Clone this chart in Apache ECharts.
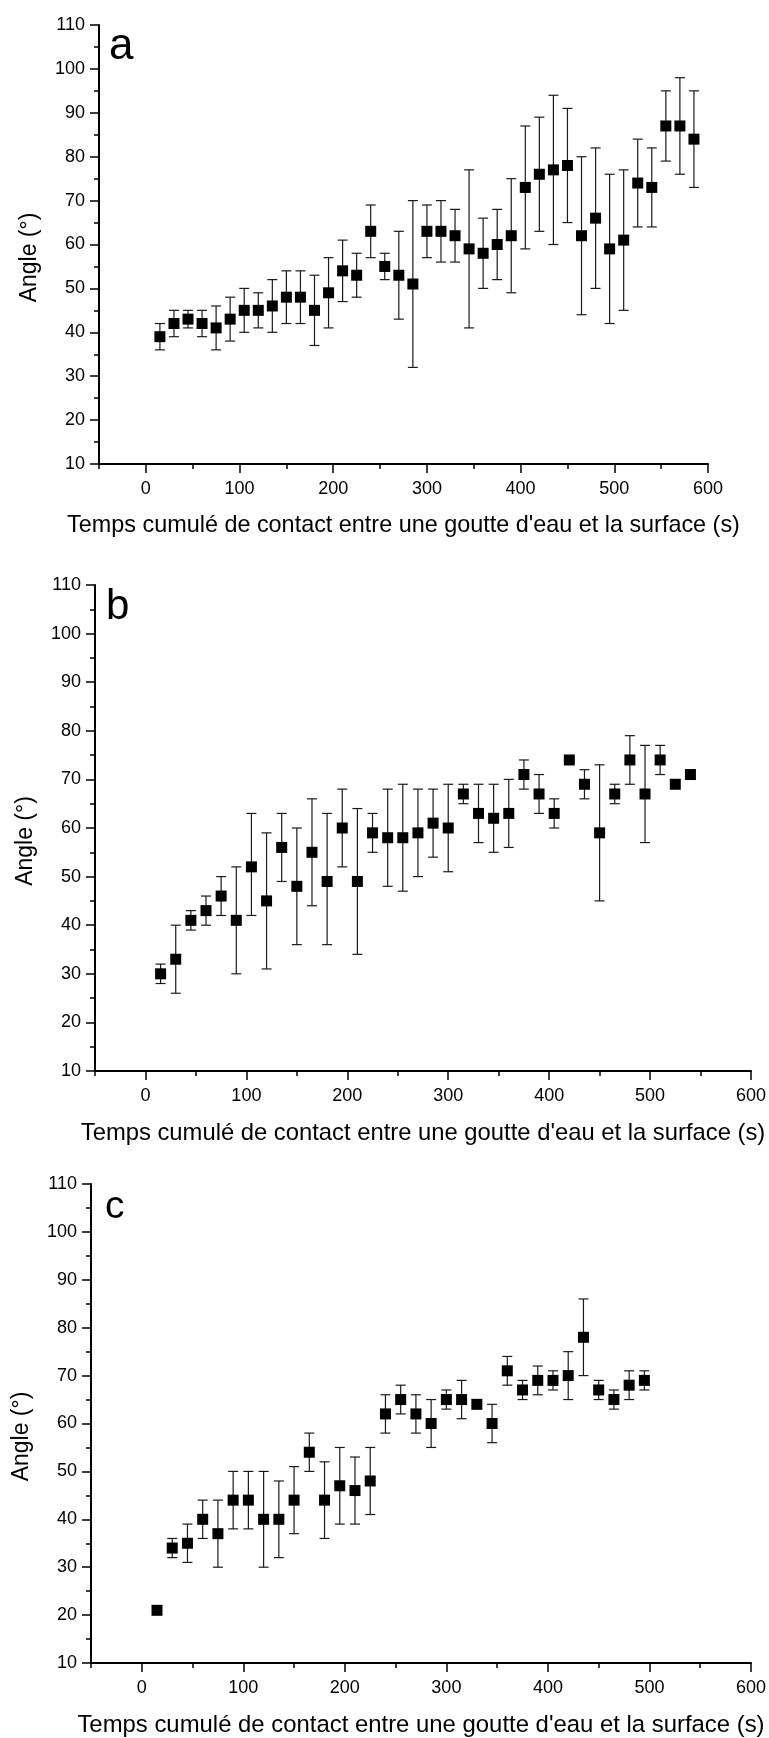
<!DOCTYPE html>
<html><head><meta charset="utf-8">
<script src="https://cdn.jsdelivr.net/npm/echarts@6/dist/echarts.min.js"></script>
<style>html,body{margin:0;padding:0;background:#fff}#c{width:769px;height:1738px}</style>
</head><body><div id="c"></div>
<script>
// ---- Tick labels ----
const xTickValues = [0, 100, 200, 300, 400, 500, 600];
const xMinorTickValues = [-50, 50, 150, 250, 350, 450, 550];
const xTitle = "Temps cumulé de contact entre une goutte d'eau et la surface (s)";
const yTitle = "Angle (°)";
const panelLetters = ['a', 'b', 'c'];

// ---- Panel a ----
const timesA = [15,30,45,60,75,90,105,120,135,150,165,180,195,210,225,240,255,270,285,300,315,330,345,360,375,390,405,420,435,450,465,480,495,510,525,540,555,570,585];
const angleA = [39,42,43,42,41,43,45,45,46,48,48,45,49,54,53,63,55,53,51,63,63,62,59,58,60,62,73,76,77,78,62,66,59,61,74,73,87,87,84];
const lowA   = [36,39,41,39,36,38,40,41,40,42,42,37,41,47,48,57,52,43,32,57,56,56,41,50,52,49,59,63,60,65,44,50,42,45,64,64,79,76,73];
const highA  = [42,45,45,45,46,48,50,49,52,54,54,53,57,61,58,69,58,63,70,69,70,68,77,66,68,75,87,89,94,91,80,82,76,77,84,82,95,98,95];

// ---- Panel b ----
const timesB = [15,30,45,60,75,90,105,120,135,150,165,180,195,210,225,240,255,270,285,300,315,330,345,360,375,390,405,420,435,450,465,480,495,510,525,540];
const angleB = [30,33,41,43,46,41,52,45,56,48,55,49,60,49,59,58,58,59,61,60,67,63,62,63,71,67,63,74,69,59,67,74,67,74,69,71];
const lowB   = [28,26,39,40,42,30,42,31,49,36,44,36,52,34,55,48,47,50,54,51,65,57,55,56,68,63,60,null,66,45,65,69,57,71,null,null];
const highB  = [32,40,43,46,50,52,63,59,63,60,66,63,68,64,63,68,69,68,68,69,69,69,69,70,74,71,66,null,72,73,69,79,77,77,null,null];

// ---- Panel c ----
const timesC = [15,30,45,60,75,90,105,120,135,150,165,180,195,210,225,240,255,270,285,300,315,330,345,360,375,390,405,420,435,450,465,480,495];
const angleC = [21,34,35,40,37,44,44,40,40,44,54,44,47,46,48,62,65,62,60,65,65,64,60,71,67,69,69,70,78,67,65,68,69];
const lowC   = [null,32,31,36,30,38,38,30,32,37,50,36,39,39,41,58,62,58,55,63,61,null,56,68,65,66,67,65,70,65,63,65,67];
const highC  = [null,36,39,44,44,50,50,50,48,51,58,52,55,53,55,66,68,66,65,67,69,null,64,74,69,72,71,75,86,69,67,71,71];

const FONT = "'Liberation Sans', Arial, sans-serif";

const panels = [
  {t: timesA, v: angleA, lo: lowA, hi: highA, grid: {left: 99, top: 25, width: 609, height: 439}, letter: {x: 109, y: 47, size: 44}, titleSize: 23.4},
  {t: timesB, v: angleB, lo: lowB, hi: highB, grid: {left: 95, top: 585, width: 658, height: 486}, letter: {x: 106, y: 607, size: 42}, titleSize: 23.8},
  {t: timesC, v: angleC, lo: lowC, hi: highC, grid: {left: 91, top: 1184, width: 662, height: 479}, letter: {x: 105, y: 1207, size: 39}, titleSize: 23.9}
];

function errRender(params, api) {
  const x = api.value(0), lo = api.value(1), hi = api.value(2);
  const pLo = api.coord([x, lo]), pHi = api.coord([x, hi]);
  const w = 5;
  const style = {stroke: '#1a1a1a', lineWidth: 1.2, fill: null};
  return {type: 'group', children: [
    {type: 'line', shape: {x1: pLo[0], y1: pLo[1], x2: pHi[0], y2: pHi[1]}, style: style},
    {type: 'line', shape: {x1: pLo[0] - w, y1: pLo[1], x2: pLo[0] + w, y2: pLo[1]}, style: style},
    {type: 'line', shape: {x1: pHi[0] - w, y1: pHi[1], x2: pHi[0] + w, y2: pHi[1]}, style: style}
  ]};
}

const grids = [], xAxes = [], yAxes = [], series = [], graphics = [];
const axisLineStyle = {color: '#000', width: 2};
const tickStyle = {color: '#000', width: 1.5};

panels.forEach(function (p, i) {
  grids.push(Object.assign({containLabel: false}, p.grid));
  xAxes.push({
    gridIndex: i, type: 'value', min: -50, max: 600, position: 'bottom',
    axisLine: {show: true, onZero: false, lineStyle: axisLineStyle},
    axisTick: {show: true, customValues: xTickValues, length: 9, lineStyle: tickStyle},
    axisLabel: {show: true, customValues: xTickValues, color: '#000', fontSize: 18, fontFamily: FONT, margin: 16},
    splitLine: {show: false},
    name: xTitle, nameLocation: 'middle', nameGap: 50,
    nameTextStyle: {color: '#000', fontSize: p.titleSize, fontFamily: FONT}
  });
  xAxes.push({
    gridIndex: i, type: 'value', min: -50, max: 600, position: 'bottom',
    axisLine: {show: false, onZero: false},
    axisTick: {show: true, customValues: xMinorTickValues, length: 5, lineStyle: tickStyle},
    axisLabel: {show: false},
    splitLine: {show: false}
  });
  yAxes.push({
    gridIndex: i, type: 'value', min: 10, max: 110, interval: 10,
    axisLine: {show: true, onZero: false, lineStyle: axisLineStyle},
    axisTick: {show: true, length: 9, lineStyle: tickStyle},
    minorTick: {show: true, splitNumber: 2, length: 5, lineStyle: tickStyle},
    axisLabel: {color: '#000', fontSize: 18, fontFamily: FONT, margin: 14},
    splitLine: {show: false}, minorSplitLine: {show: false},
    name: yTitle, nameLocation: 'middle', nameGap: 58,
    nameTextStyle: {color: '#000', fontSize: 23, fontFamily: FONT, padding: [0, 26, 0, 0]}
  });
  const errData = [];
  const ptData = [];
  p.t.forEach(function (t, k) {
    ptData.push([t, p.v[k]]);
    if (p.lo[k] != null && p.hi[k] != null) errData.push([t, p.lo[k], p.hi[k]]);
  });
  series.push({
    type: 'custom', xAxisIndex: i * 2, yAxisIndex: i, renderItem: errRender,
    data: errData, z: 2, silent: true, animation: false, clip: false
  });
  series.push({
    type: 'scatter', xAxisIndex: i * 2, yAxisIndex: i, data: ptData,
    symbol: 'rect', symbolSize: 11, itemStyle: {color: '#000', opacity: 1},
    z: 3, silent: true, animation: false
  });
  graphics.push({
    type: 'text', x: p.letter.x, y: p.letter.y,
    style: {text: panelLetters[i], font: p.letter.size + 'px ' + FONT, fill: '#000', textVerticalAlign: 'middle', verticalAlign: 'middle'}
  });
});

const chart = echarts.init(document.getElementById('c'), null, {renderer: 'canvas'});
chart.setOption({
  backgroundColor: '#fff',
  animation: false,
  grid: grids,
  xAxis: xAxes,
  yAxis: yAxes,
  series: series,
  graphic: graphics
});
</script>
</body></html>
